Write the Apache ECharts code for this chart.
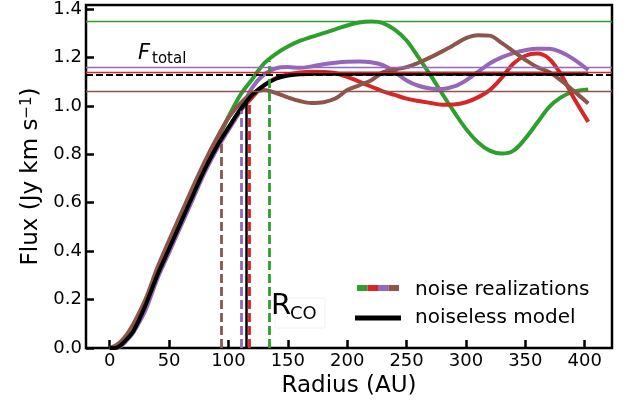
<!DOCTYPE html>
<html>
<head>
<meta charset="utf-8">
<script src="https://cdn.jsdelivr.net/npm/echarts@6/dist/echarts.min.js"></script>
<style>
  html, body { margin: 0; padding: 0; background: #fff; }
  #chart { width: 628px; height: 405px; }
</style>
</head>
<body>
<div id="chart"></div>
<script>
// radius grid (AU) shared by every curve
const radius = [0, 5, 10, 15, 20, 30, 40, 50, 60, 70, 80, 90, 100, 110, 120, 130, 140, 150, 160, 170, 180, 190, 200,
  210, 220, 230, 240, 250, 260, 270, 280, 290, 300, 310, 320, 330, 340, 350, 360, 370, 380, 390, 403]

// cumulative flux curves (Jy km/s)
const modelFlux = [0, 0, 0.015, 0.04, 0.07, 0.175, 0.3, 0.41, 0.52, 0.63, 0.738, 0.83, 0.91, 0.985, 1.045, 1.085, 1.112, 1.125, 1.13,
  1.133, 1.133, 1.133, 1.133, 1.133, 1.133, 1.133, 1.133, 1.133, 1.133, 1.133, 1.133, 1.133, 1.133, 1.133, 1.133, 1.133, 1.133,
  1.133, 1.133, 1.133, 1.133, 1.133, 1.133]
const greenFlux = [0, 0, 0.015, 0.045, 0.08, 0.175, 0.305, 0.42, 0.53, 0.64, 0.75, 0.85, 0.955, 1.045, 1.11, 1.175, 1.215, 1.245, 1.268,
  1.285, 1.3, 1.316, 1.332, 1.344, 1.348, 1.342, 1.315, 1.27, 1.2, 1.128, 1.05, 0.975, 0.905, 0.85, 0.815, 0.803, 0.815,
  0.865, 0.93, 0.995, 1.035, 1.058, 1.068]
const redFlux = [0, 0, 0.015, 0.045, 0.08, 0.18, 0.31, 0.42, 0.53, 0.64, 0.745, 0.835, 0.91, 0.98, 1.035, 1.085, 1.115, 1.13, 1.138,
  1.141, 1.14, 1.135, 1.12, 1.1, 1.08, 1.06, 1.045, 1.03, 1.02, 1.012, 1.005, 1.006, 1.015, 1.035, 1.065, 1.115, 1.175,
  1.207, 1.216, 1.195, 1.13, 1.04, 0.934]
const purpleFlux = [0, 0, 0.01, 0.035, 0.065, 0.155, 0.285, 0.395, 0.505, 0.615, 0.725, 0.82, 0.9, 0.98, 1.075, 1.13, 1.155, 1.16, 1.157,
  1.163, 1.172, 1.178, 1.182, 1.183, 1.18, 1.168, 1.14, 1.105, 1.083, 1.072, 1.07, 1.08, 1.105, 1.14, 1.175, 1.2, 1.218,
  1.23, 1.236, 1.236, 1.222, 1.195, 1.148]
const brownFlux = [0, 0.01, 0.03, 0.06, 0.1, 0.2, 0.33, 0.445, 0.555, 0.665, 0.77, 0.865, 0.95, 1.01, 1.052, 1.065, 1.053, 1.035, 1.02,
  1.012, 1.015, 1.03, 1.065, 1.085, 1.105, 1.138, 1.15, 1.16, 1.178, 1.2, 1.225, 1.252, 1.28, 1.292, 1.29, 1.26, 1.225,
  1.19, 1.16, 1.14, 1.105, 1.065, 1.01]

// order: green, red, purple, brown
const noiseNames = ['green', 'red', 'purple', 'brown']
const noiseColors = ['#2ca02c', '#d62728', '#9467bd', '#8c564b']
const noiseFlux = [greenFlux, redFlux, purpleFlux, brownFlux]
const noiseTotal = [1.346, 1.142, 1.156, 1.062]
const noiseRco = [134.2, 117.4, 111, 94.3]
const noiseRcoTop = [1.185, 1.01, 0.98, 0.86]
const modelTotal = 1.131
const modelRco = 114.7
const modelRcoTop = 1.02

const xTicks = [0, 50, 100, 150, 200, 250, 300, 350, 400]
const yTicks = [0, 0.2, 0.4, 0.6, 0.8, 1.0, 1.2, 1.4]

const font = 'DejaVu Sans'
const pair = (ys) => radius.map((r, i) => [r, ys[i]])

const series = noiseFlux.map((ys, k) => ({
  name: noiseNames[k],
  type: 'line',
  data: pair(ys),
  smooth: 0.35,
  showSymbol: false,
  lineStyle: { color: noiseColors[k], width: 4 },
  markLine: {
    silent: true,
    symbol: 'none',
    label: { show: false },
    data: [
      { yAxis: noiseTotal[k], lineStyle: { color: noiseColors[k], width: 1.3, type: 'solid' } },
      [
        { coord: [noiseRco[k], 0], lineStyle: { color: noiseColors[k], width: 2.8, type: [9, 4] } },
        { coord: [noiseRco[k], noiseRcoTop[k]] }
      ]
    ]
  }
}))

series.push({
  name: 'model',
  type: 'line',
  data: pair(modelFlux),
  smooth: 0.35,
  showSymbol: false,
  lineStyle: { color: '#000', width: 4 },
  markLine: {
    silent: true,
    symbol: 'none',
    label: { show: false },
    data: [
      { yAxis: modelTotal, lineStyle: { color: '#000', width: 2.2, type: [7, 3] } },
      [
        { coord: [modelRco, 0], lineStyle: { color: '#000', width: 2.5, type: 'solid' } },
        { coord: [modelRco, modelRcoTop] }
      ]
    ]
  }
})

// legend swatch drawn by hand (four-colour patch)
const swatch = noiseColors.map((c, i) => ({
  type: 'rect',
  shape: { x: 357 + i * 10.5, y: 285, width: 10.5, height: 6 },
  style: { fill: c }
}))

const option = {
  animation: false,
  grid: { left: 86, right: 16, top: 5, bottom: 57, show: true, borderColor: '#000', borderWidth: 2.5, backgroundColor: 'transparent' },
  xAxis: {
    type: 'value',
    min: -20,
    max: 423,
    name: 'Radius (AU)',
    nameLocation: 'middle',
    nameGap: 23,
    nameTextStyle: { fontSize: 23, fontFamily: font, color: '#000' },
    axisLine: { show: false, onZero: false },
    axisTick: { show: true, inside: true, length: 8, customValues: xTicks, lineStyle: { color: '#000', width: 2.5 } },
    axisLabel: { customValues: xTicks, fontSize: 18, fontFamily: font, color: '#000', margin: 4 },
    splitLine: { show: false }
  },
  yAxis: {
    type: 'value',
    min: 0,
    max: 1.4165,
    name: '{a|Flux (Jy km s}{b|−1}{a|)}',
    nameLocation: 'middle',
    nameGap: 42,
    nameTextStyle: {
      rich: {
        a: { fontSize: 23, fontFamily: font, color: '#000' },
        b: { fontSize: 15, fontFamily: font, color: '#000', verticalAlign: 'top' }
      }
    },
    axisLine: { show: false, onZero: false },
    axisTick: { show: true, inside: true, length: 8, customValues: yTicks, lineStyle: { color: '#000', width: 2.5 } },
    axisLabel: { customValues: yTicks, fontSize: 18, fontFamily: font, color: '#000', margin: 4, formatter: (v) => v.toFixed(1) },
    splitLine: { show: false }
  },
  graphic: [
    { type: 'text', style: { x: 138, y: 54, text: 'F', font: 'italic 21px "DejaVu Sans"', fill: '#000', verticalAlign: 'middle' } },
    { type: 'text', style: { x: 152, y: 59, text: 'total', font: '15px "DejaVu Sans"', fill: '#000', verticalAlign: 'middle' } },
    { type: 'rect', shape: { x: 275, y: 298, width: 50, height: 30 }, style: { fill: '#fff', stroke: '#f2f2f2', lineWidth: 1 } },
    { type: 'text', style: { x: 271, y: 306, text: 'R', font: '29px "DejaVu Sans"', fill: '#000', verticalAlign: 'middle' } },
    { type: 'text', style: { x: 290, y: 314, text: 'CO', font: '18px "DejaVu Sans"', fill: '#000', verticalAlign: 'middle' } },
    ...swatch,
    { type: 'rect', shape: { x: 355, y: 315.5, width: 46, height: 5 }, style: { fill: '#000' } },
    { type: 'text', style: { x: 415, y: 290, text: 'noise realizations', font: '20px "DejaVu Sans"', fill: '#000', verticalAlign: 'middle' } },
    { type: 'text', style: { x: 415, y: 318, text: 'noiseless model', font: '20px "DejaVu Sans"', fill: '#000', verticalAlign: 'middle' } }
  ],
  series
}

const chart = echarts.init(document.getElementById('chart'))
chart.setOption(option)
</script>
</body>
</html>
